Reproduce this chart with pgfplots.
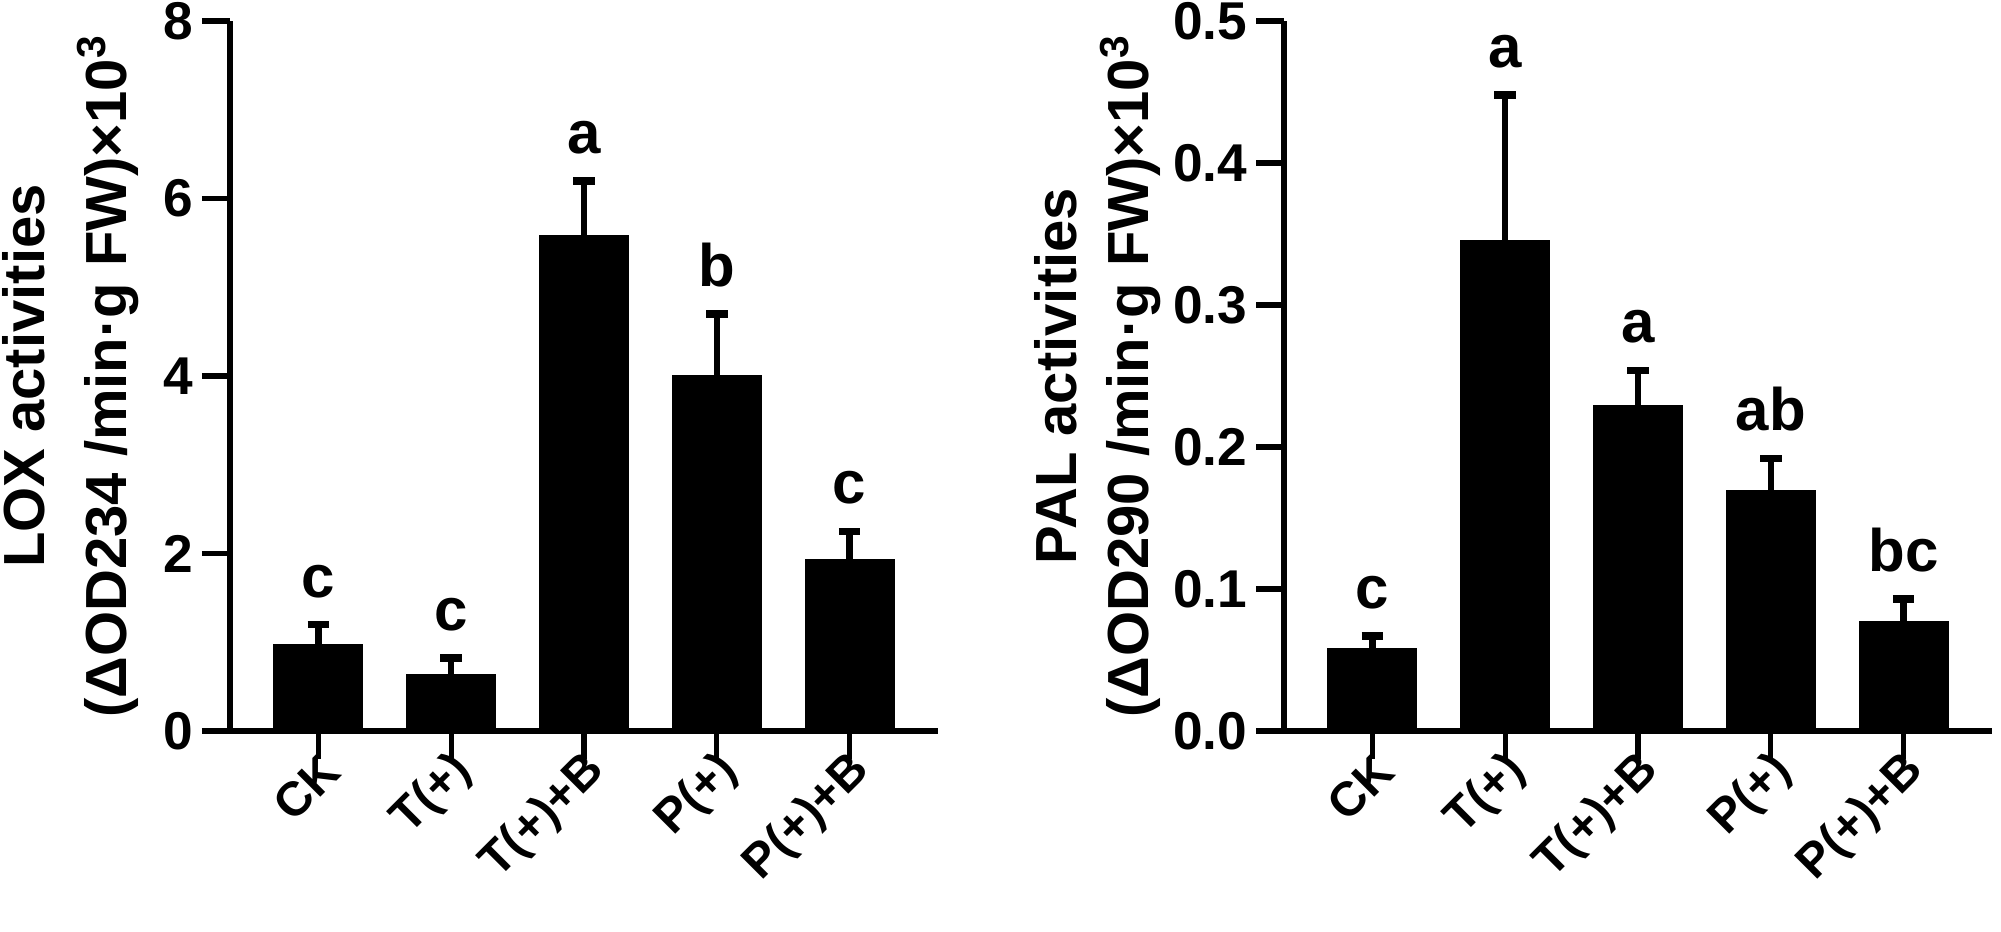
\documentclass[border=0pt]{standalone}
\usepackage{fontspec}
\setmainfont{Liberation Sans}
\usepackage{pgfplots}
\usepackage{pgfplotstable}
\pgfplotsset{compat=1.18}

\pgfplotstableread{
x  y     e
0  0.97  0.23
1  0.63  0.19
2  5.58  0.62
3  4.00  0.70
4  1.93  0.32
}\loxdata

\pgfplotstableread{
x  y      e
0  0.058  0.009
1  0.345  0.103
2  0.229  0.025
3  0.169  0.023
4  0.077  0.016
}\paldata

\tikzset{sig/.style={anchor=south, inner sep=0pt, yshift=6.5pt,
    font=\bfseries\fontsize{15}{15}\selectfont}}

\pgfplotsset{
  panel/.style={
    scale only axis, height=177.5pt, width=177pt,
    axis x line=bottom, axis y line=left,
    axis line style={line width=1.3pt,-},
    major tick style={line width=1.3pt,black},
    tick align=outside, major tick length=7pt,
    ymin=0, xmin=-0.665, xmax=4.665,
    xtick={0,...,4}, xticklabels={CK,T(+),T(+)+B,P(+),P(+)+B},
    x tick label style={rotate=45, anchor=east, inner sep=0pt,
      xshift=1.75pt, yshift=-3pt,
      font=\bfseries\fontsize{12}{12}\selectfont},
    y tick label style={inner sep=2pt, font=\bfseries\fontsize{13.3}{13.3}\selectfont},
    /pgf/number format/assume math mode=true,
    ylabel style={align=center, anchor=south, inner sep=0pt,
      at={(axis description cs:0,0.5)}},
    ybar=0pt, bar width=0.664,
    clip=false,
  },
  barplot/.style={fill=black, draw=black,
    error bars/.cd, y dir=plus, y explicit,
    error bar style={line width=1.6pt},
    error mark options={rotate=90, mark size=2.7pt, line width=1.9pt}},
}

\begin{document}
\begin{tikzpicture}
\begin{axis}[panel, ymax=8, ytick={0,2,...,8},
  ylabel style={yshift=22.7pt, font=\bfseries\fontsize{14.5}{20.5}\selectfont},
  ylabel={LOX activities\\(ΔOD234 /min·g FW)×10\textsuperscript{3}}]
  \addplot[barplot] table[x=x, y=y, y error=e] {\loxdata};
  \node[sig] at (axis cs:0,1.20) {c};
  \node[sig] at (axis cs:1,0.82) {c};
  \node[sig] at (axis cs:2,6.20) {a};
  \node[sig] at (axis cs:3,4.70) {b};
  \node[sig] at (axis cs:4,2.25) {c};
\end{axis}
\begin{axis}[panel, at={(263.5pt,0pt)}, ymax=0.5,
  ytick={0,0.1,...,0.5},
  yticklabel style={/pgf/number format/.cd, fixed, fixed zerofill, precision=1},
  ylabel style={yshift=30.5pt, font=\bfseries\fontsize{14.5}{18}\selectfont},
  ylabel={PAL activities\\(ΔOD290 /min·g FW)×10\textsuperscript{3}}]
  \addplot[barplot] table[x=x, y=y, y error=e] {\paldata};
  \node[sig] at (axis cs:0,0.067) {c};
  \node[sig] at (axis cs:1,0.448) {a};
  \node[sig] at (axis cs:2,0.254) {a};
  \node[sig] at (axis cs:3,0.192) {ab};
  \node[sig] at (axis cs:4,0.093) {bc};
\end{axis}
\pgfresetboundingbox
\path[use as bounding box] (-57.5pt,-50pt) rectangle (442.75pt,182.75pt);
\end{tikzpicture}
\end{document}
